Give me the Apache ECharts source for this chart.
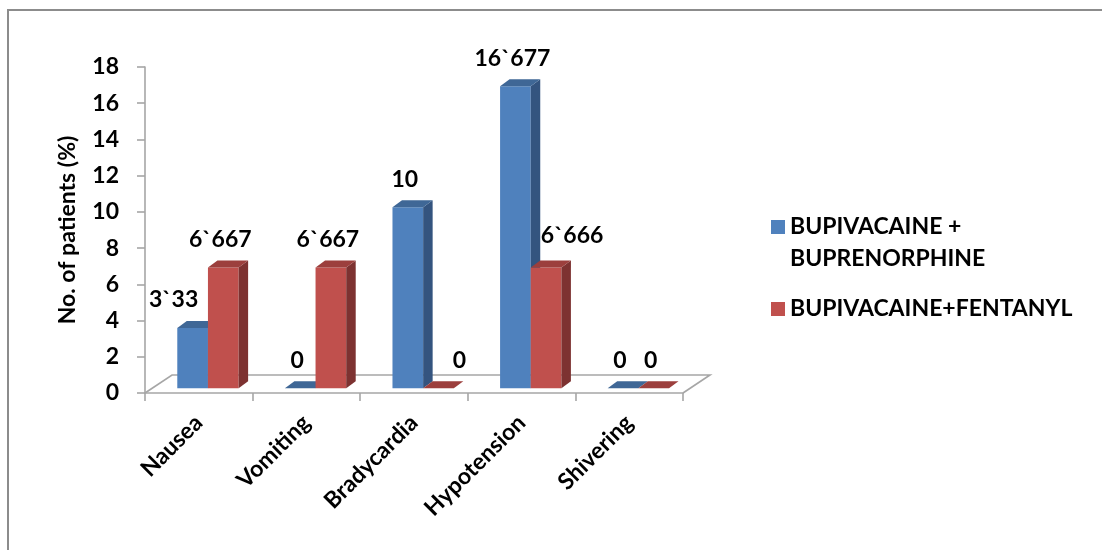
<!DOCTYPE html>
<html>
<head>
<meta charset="utf-8">
<script src="https://cdn.jsdelivr.net/npm/echarts@6/dist/echarts.min.js"></script>
<style>
  html, body { margin: 0; padding: 0; background: #ffffff; }
  #chart { width: 1102px; height: 550px; }
</style>
</head>
<body>
<div id="chart"></div>
<script>
// Adverse effects per group, % of patients
const categories = ['Nausea', 'Vomiting', 'Bradycardia', 'Hypotension', 'Shivering'];
const buprenorphineValues = [3.33, 0, 10, 16.677, 0];
const fentanylValues = [6.667, 6.667, 0, 6.666, 0];
const seriesNames = ['BUPIVACAINE + BUPRENORPHINE', 'BUPIVACAINE+FENTANYL'];
const yTicks = { min: 0, max: 18, interval: 2 };

// Hand-placed label nudges [dx, dy] in pixels, per series and category
const labelNudge = [
  [[-16, 0], [0, 0], [0, 0], [0, 0], [0, 0]],
  [[0, 0], [0, 0], [24, 0], [29, -4], [0, 0]]
];

const FONT = 'Lato, "Open Sans", sans-serif';
const FONT_SIZE = 23;
const palettes = [
  { front: '#4f81bd', top: '#3f6796', side: '#34547f' },
  { front: '#c0504d', top: '#9c3f3d', side: '#7d3231' }
];

// Oblique 3D look: bars sit slightly behind the front edge of the floor
const BASE_DX = 0, BASE_DY = -4.7;
const BAR_DX = 9.5, BAR_DY = -7;
const FLOOR_DX = 27, FLOOR_DY = -18;

function formatValue(v) {
  return String(v).replace('.', '`');
}

function makeBarRenderer(slot) {
  const pal = palettes[slot];
  return function (params, api) {
    const idx = api.value(0);
    const val = api.value(1);
    const base = api.coord([idx, 0]);
    const top = api.coord([idx, val]);
    const band = api.size([1, 0])[0];
    const w = band * 0.285;
    const x0 = base[0] - band * 0.2 + slot * w + BASE_DX;
    const x1 = x0 + w;
    const yb = base[1] + BASE_DY;
    const yt = top[1] + BASE_DY;
    const children = [];
    if (yb - yt > 0.5) {
      children.push({
        type: 'rect',
        shape: { x: x0, y: yt, width: w, height: yb - yt },
        style: { fill: pal.front }
      });
      children.push({
        type: 'polygon',
        shape: { points: [[x1, yt], [x1 + BAR_DX, yt + BAR_DY], [x1 + BAR_DX, yb + BAR_DY], [x1, yb]] },
        style: { fill: pal.side }
      });
    }
    children.push({
      type: 'polygon',
      shape: { points: [[x0, yt], [x0 + BAR_DX, yt + BAR_DY], [x1 + BAR_DX, yt + BAR_DY], [x1, yt]] },
      style: { fill: pal.top }
    });
    const nudge = labelNudge[slot][idx] || [0, 0];
    children.push({
      type: 'text',
      z2: 10,
      style: {
        text: formatValue(val),
        x: (x0 + x1) / 2 - 3 + nudge[0],
        y: yt - 28 + nudge[1],
        align: 'center',
        verticalAlign: 'middle',
        font: 'bold ' + FONT_SIZE + 'px ' + FONT,
        fill: '#000000'
      }
    });
    return { type: 'group', children: children };
  };
}

function renderFloor(params, api) {
  const p = api.coord([0, 0]);
  const band = api.size([1, 0])[0];
  const left = p[0] - band / 2;
  const right = left + band * categories.length;
  const y = p[1];
  return {
    type: 'polyline',
    shape: {
      points: [[left, y], [left + FLOOR_DX, y + FLOOR_DY], [right + FLOOR_DX, y + FLOOR_DY], [right, y]]
    },
    style: { stroke: '#a6a6a6', lineWidth: 1.6, fill: null }
  };
}

const chart = echarts.init(document.getElementById('chart'), null, { renderer: 'canvas' });

chart.setOption({
  animation: false,
  backgroundColor: '#ffffff',
  textStyle: { fontFamily: FONT },
  graphic: [{
    type: 'polyline',
    shape: { points: [[8, 550], [8, 10], [1102, 10]] },
    style: { stroke: '#8c8c8c', lineWidth: 2, fill: null },
    silent: true
  }],
  grid: { left: 145, right: 419, top: 67, bottom: 157, containLabel: false },
  legend: {
    orient: 'vertical',
    left: 766,
    top: 174,
    icon: 'rect',
    itemWidth: 14,
    itemHeight: 14,
    itemGap: 18,
    data: seriesNames,
    // leading blank line keeps the swatch level with the first text line
    formatter: function (name) {
      return name === seriesNames[0] ? '\nBUPIVACAINE +\nBUPRENORPHINE' : name;
    },
    textStyle: {
      fontFamily: FONT,
      fontWeight: 'bold',
      fontSize: FONT_SIZE,
      color: '#000000',
      lineHeight: 32
    }
  },
  xAxis: {
    type: 'category',
    data: categories,
    boundaryGap: true,
    axisLine: { show: true, lineStyle: { color: '#a6a6a6', width: 1.6 } },
    axisTick: { show: true, length: 8, alignWithLabel: false, lineStyle: { color: '#a6a6a6', width: 1.6 } },
    axisLabel: {
      rotate: 45,
      margin: 26,
      interval: 0,
      fontFamily: FONT,
      fontWeight: 'bold',
      fontSize: FONT_SIZE,
      color: '#000000'
    },
    splitLine: { show: false }
  },
  yAxis: {
    type: 'value',
    min: yTicks.min,
    max: yTicks.max,
    interval: yTicks.interval,
    name: 'No. of patients (%)',
    nameLocation: 'middle',
    nameGap: 66,
    nameRotate: 90,
    nameTextStyle: { fontFamily: FONT, fontWeight: 'bold', fontSize: FONT_SIZE, color: '#000000' },
    axisLine: { show: true, lineStyle: { color: '#a6a6a6', width: 1.6 } },
    axisTick: { show: true, length: 8, lineStyle: { color: '#a6a6a6', width: 1.6 } },
    axisLabel: {
      margin: 26,
      fontFamily: FONT,
      fontWeight: 'bold',
      fontSize: FONT_SIZE,
      color: '#000000'
    },
    splitLine: { show: false }
  },
  series: [
    {
      type: 'custom',
      name: 'floor',
      z: 1,
      silent: true,
      renderItem: renderFloor,
      data: [[0, 0]]
    },
    {
      type: 'custom',
      name: seriesNames[0],
      z: 2,
      itemStyle: { color: palettes[0].front },
      renderItem: makeBarRenderer(0),
      encode: { x: 0, y: 1 },
      data: buprenorphineValues.map(function (v, i) { return [i, v]; })
    },
    {
      type: 'custom',
      name: seriesNames[1],
      z: 3,
      itemStyle: { color: palettes[1].front },
      renderItem: makeBarRenderer(1),
      encode: { x: 0, y: 1 },
      data: fentanylValues.map(function (v, i) { return [i, v]; })
    }
  ]
});
</script>
</body>
</html>
